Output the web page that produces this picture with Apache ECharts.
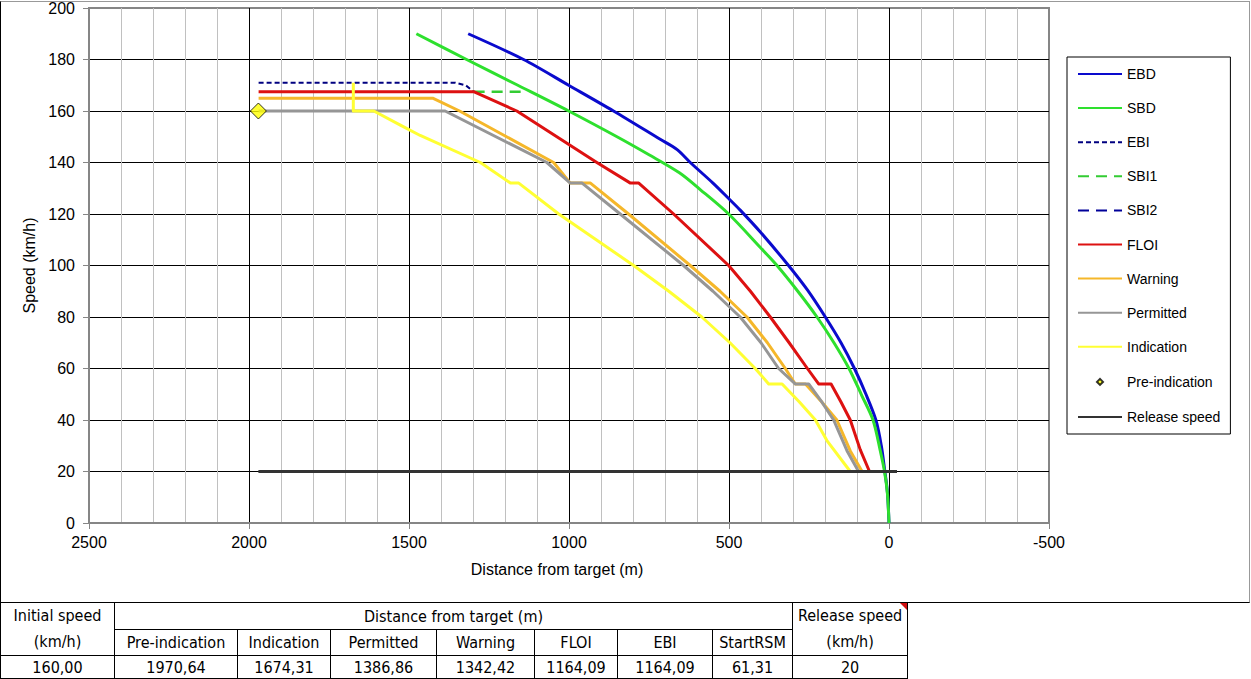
<!DOCTYPE html>
<html><head><meta charset="utf-8">
<script src="https://cdn.jsdelivr.net/npm/echarts@6/dist/echarts.min.js"></script>
<style>
html,body{margin:0;padding:0;background:#fff;width:1251px;height:679px;overflow:hidden;}
#chart{position:absolute;left:0;top:0;width:1251px;height:603px;}
#frame{position:absolute;left:0;top:1px;width:1248px;height:600px;border-left:1px solid #000;border-bottom:1px solid #000;border-top:1px solid #999;border-right:1px solid #999;pointer-events:none;}
table{position:absolute;left:0;top:602px;width:908px;border-collapse:collapse;table-layout:fixed;font-family:"Liberation Sans Narrow","Arial Narrow","DejaVu Sans Condensed",sans-serif;font-size:16px;color:#000;}
td{border:1px solid #000;text-align:center;padding:0;white-space:nowrap;overflow:hidden;}
td.two{line-height:26px;}
#cm{position:absolute;left:900px;top:603px;width:0;height:0;border-top:7px solid #d01010;border-left:7px solid transparent;}
</style></head>
<body>
<div id="chart"></div>
<div id="frame"></div>
<table id="tbl">
<colgroup><col style="width:114px"><col style="width:123px"><col style="width:93px"><col style="width:106px"><col style="width:98px"><col style="width:83px"><col style="width:95px"><col style="width:80px"><col style="width:115px"></colgroup>
<tr style="height:26px"><td rowspan="2" class="two" id="h0"></td><td colspan="7" id="h1"></td><td rowspan="2" class="two" id="h2"></td></tr>
<tr style="height:25px" id="r2"></tr>
<tr style="height:23px" id="r3"></tr>
</table>
<div id="cm"></div>
<script>
// ---- data ----
const seriesNames = ['EBD','SBD','EBI','SBI1','SBI2','FLOI','Warning','Permitted','Indication','Pre-indication','Release speed'];
const ebd = [[1315,190],[1142,180],[1001,170],[861,160],[715,149],[662,145],[621,140],[550,132],[501,126],[465,121.5],[402,113],[314,100],[255,90.5],[199,80],[150,70],[108,60],[72,50],[41,40],[24,30],[14,21],[5,12],[0,0]];
const sbd = [[1477,190],[1320,180],[1160,170],[1001,160],[850,150],[750,143],[655,136],[590,129.5],[501,120],[402,107],[350,100],[285,90],[225,80],[172,70],[125,60],[85,49.5],[50,40],[28,28.5],[14,20],[5,11.5],[0,0]];
const ebi = [[1970,171],[1355,171],[1323,170],[1298,167.5]];
const sbi1 = [[1298,167.5],[1131,167.5]];
const sbi2 = [];
const floi = [[1970,167.5],[1298,167.5],[1163,160],[913,140],[808,132],[782,132],[673,120],[501,100],[433,90],[371,80],[312,70],[255,60],[220,54],[181,54],[150,47],[121,40],[90,28.5],[61,20]];
const warning = [[1970,165],[1426,165],[1342,160],[1048,140],[996,132],[933,132],[814,120],[621,100],[528,90],[444,80],[380,70],[324,60],[293,54],[261,54],[210,47],[163,40],[121,28],[84,20]];
const permitted = [[1970,160],[1387,160],[1069,140],[996,132],[959,132],[840,120],[642,100],[550,90],[465,80],[400,70],[345,60],[293,54],[251,54],[210,47],[173,40],[131,28],[95,20]];
const indication = [[1674,171],[1674,160],[1610,160],[1527,154.5],[1465,150.5],[1277,140],[1183,132],[1157,132],[1032,120],[798,100],[688,90],[585,80],[497,70],[418,60],[376,54],[334,54],[280,47],[230,40],[194,32],[121,20]];
const preIndication = [[1970.64,160]];
const releaseSpeed = [[1970.64,20],[-25,20]];

// table texts
const tableHead0 = ['Initial speed','(km/h)'];
const tableHead1 = 'Distance from target (m)';
const tableHead2 = ['Release speed','(km/h)'];
const tableCols = ['Pre-indication','Indication','Permitted','Warning','FLOI','EBI','StartRSM'];
const tableVals = ['160,00','1970,64','1674,31','1386,86','1342,42','1164,09','1164,09','61,31','20'];

// ---- table ----
document.getElementById('h0').innerHTML = tableHead0.join('<br>');
document.getElementById('h1').textContent = tableHead1;
document.getElementById('h2').innerHTML = tableHead2.join('<br>');
document.getElementById('r2').innerHTML = tableCols.map(t=>'<td>'+t+'</td>').join('');
document.getElementById('r3').innerHTML = tableVals.map(t=>'<td>'+t+'</td>').join('');

// ---- chart ----
const FONT = '"Liberation Sans", Arial, sans-serif';
function line(name, data, color, width, type, smooth) {
  return {name, type:'line', data, symbol:'none', showSymbol:false, clip:false,
    smooth: smooth || false,
    lineStyle:{color, width, type: type || 'solid', cap:'butt', join:'round'},
    itemStyle:{color}, emphasis:{disabled:true}};
}
const hidden = {color:'transparent', borderColor:'transparent', borderWidth:0};
const chart = echarts.init(document.getElementById('chart'), null, {renderer:'svg'});
chart.setOption({
  animation:false,
  backgroundColor:'#fff',
  textStyle:{fontFamily:FONT},
  grid:{left:89, top:6, right:202, bottom:80, show:true, borderColor:'#868686', borderWidth:2, backgroundColor:'transparent'},
  legend:{
    orient:'vertical', left:1067, top:57, padding:[10,10,10,10],
    itemWidth:44, itemHeight:14, itemGap:20.1,
    borderColor:'#000', borderWidth:1, backgroundColor:'#fff',
    textStyle:{fontFamily:FONT, fontSize:14, color:'#000'},
    selectedMode:false,
    data: seriesNames.map(n => n === 'Pre-indication'
      ? {name:n, icon:'path://M0,0M14,14M4,7L7,4L10,7L7,10Z'}
      : {name:n, itemStyle:hidden})
  },
  xAxis:{
    type:'value', inverse:true, min:-500, max:2500, interval:500,
    name:'Distance from target (m)', nameLocation:'middle', nameGap:38,
    nameTextStyle:{fontFamily:FONT, fontSize:16, color:'#000', padding:[0,24,0,0]},
    axisLine:{show:true, onZero:false, lineStyle:{color:'#868686', width:2}},
    axisTick:{show:true, length:6, lineStyle:{color:'#868686', width:1}},
    axisLabel:{fontFamily:FONT, fontSize:16, color:'#000', margin:11, showMinLabel:true, showMaxLabel:true,
      formatter: v => String(v)},
    splitLine:{show:true, showMinLine:false, showMaxLine:false, lineStyle:{color:'#000', width:1}},
    minorTick:{show:false, splitNumber:5},
    minorSplitLine:{show:true, lineStyle:{color:'#c0c0c0', width:1}}
  },
  yAxis:{
    type:'value', min:0, max:200, interval:20,
    name:'Speed (km/h)', nameLocation:'middle', nameGap:50,
    nameTextStyle:{fontFamily:FONT, fontSize:16, color:'#000'},
    axisLine:{show:true, onZero:false, lineStyle:{color:'#868686', width:2}},
    axisTick:{show:true, length:6, lineStyle:{color:'#868686', width:1}},
    axisLabel:{fontFamily:FONT, fontSize:16, color:'#000', margin:14, showMinLabel:true, showMaxLabel:true},
    splitLine:{show:true, showMinLine:false, showMaxLine:false, lineStyle:{color:'#000', width:1}}
  },
  series:[
    line('EBD', ebd, '#0a0acd', 3, null, 0.3),
    line('SBD', sbd, '#2ee02e', 3, null, 0.3),
    line('EBI', ebi, '#000080', 2, [5,3]),
    line('SBI1', sbi1, '#33cc33', 2.5, [11,7]),
    line('SBI2', sbi2, '#000099', 2.5, [11,7]),
    line('FLOI', floi, '#dd1111', 3),
    line('Warning', warning, '#f5b72a', 3),
    line('Permitted', permitted, '#969696', 3),
    line('Indication', indication, '#ffff33', 3),
    {name:'Pre-indication', type:'scatter', data:preIndication, symbol:'diamond', symbolSize:16,
      itemStyle:{color:'#ffff00', borderColor:'#000', borderWidth:1}, emphasis:{disabled:true}, z:5},
    line('Release speed', releaseSpeed, '#333333', 3)
  ]
});
</script>
</body></html>
